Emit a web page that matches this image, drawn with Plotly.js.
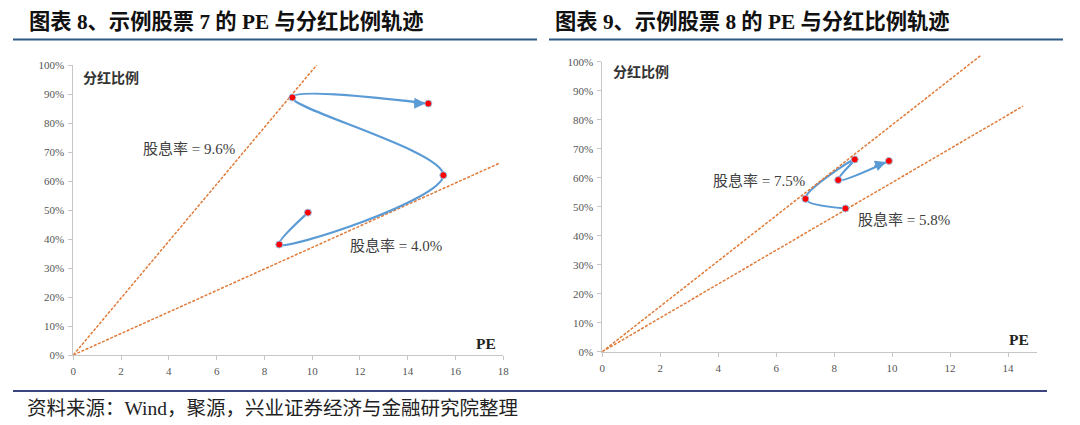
<!DOCTYPE html>
<html>
<head>
<meta charset="utf-8">
<script src="https://cdn.plot.ly/plotly-3.0.1.min.js"></script>
<style>html,body{margin:0;padding:0;background:#fff;}#chart{width:1080px;height:425px;}</style>
</head>
<body>
<div id="chart"></div>
<script>
// ---- Data ----
// Chart 8: example stock 7 trajectory (PE, payout ratio)
const stock7PE = [9.82, 8.62, 15.49, 9.17, 14.86];
const stock7Payout = [0.491, 0.381, 0.620, 0.888, 0.867];
// Dividend-yield reference lines for chart 8 (origin to drawn end)
const yield96X = [0, 10.19];
const yield96Y = [0, 1.0];
const yield40X = [0, 17.83];
const yield40Y = [0, 0.661];

// Chart 9: example stock 8 trajectory
const stock8PE = [8.39, 7.01, 8.71, 8.14, 9.89];
const stock8Payout = [0.494, 0.527, 0.663, 0.592, 0.658];
const yield75X = [0, 13.08];
const yield75Y = [0, 1.023];
const yield58X = [0, 14.52];
const yield58Y = [0, 0.847];

const yTickVals = [0, 0.1, 0.2, 0.3, 0.4, 0.5, 0.6, 0.7, 0.8, 0.9, 1.0];
const yTickText = ['0%', '10%', '20%', '30%', '40%', '50%', '60%', '70%', '80%', '90%', '100%'];
const xTicksLeft = [0, 2, 4, 6, 8, 10, 12, 14, 16, 18];
const xTicksRight = [0, 2, 4, 6, 8, 10, 12, 14];

const titleLeft = '图表 8、示例股票 7 的 PE 与分红比例轨迹';
const titleRight = '图表 9、示例股票 8 的 PE 与分红比例轨迹';
const sourceText = '资料来源：Wind，聚源，兴业证券经济与金融研究院整理';

// ---- Styles ----
const BLUE = '#5B9BD5';
const ORANGE = '#E07B39';
const RED = '#FF0000';
const SERIF = '"Liberation Serif", "Noto Sans CJK SC", serif';
const CJK = '"Liberation Serif", "Noto Sans CJK SC", sans-serif';

function dashLine(x, y, xa, ya) {
  return {x: x, y: y, xaxis: xa, yaxis: ya, mode: 'lines', type: 'scatter',
    line: {color: ORANGE, width: 1.5, dash: '3px,1.5px'}, hoverinfo: 'skip', showlegend: false};
}
function pathLine(x, y, xa, ya) {
  return {x: x, y: y, xaxis: xa, yaxis: ya, mode: 'lines', type: 'scatter',
    line: {color: BLUE, width: 2.2, shape: 'spline', smoothing: 1}, hoverinfo: 'skip', showlegend: false};
}
function dots(x, y, xa, ya) {
  return {x: x, y: y, xaxis: xa, yaxis: ya, mode: 'markers', type: 'scatter',
    marker: {color: RED, size: 7, line: {color: '#9dc3e6', width: 1}}, hoverinfo: 'skip', showlegend: false};
}

const traces = [
  dashLine(yield96X, yield96Y, 'x', 'y'),
  dashLine(yield40X, yield40Y, 'x', 'y'),
  pathLine(stock7PE, stock7Payout, 'x', 'y'),
  dots(stock7PE, stock7Payout, 'x', 'y'),
  dashLine(yield75X, yield75Y, 'x3', 'y3'),
  dashLine(yield58X, yield58Y, 'x2', 'y2'),
  pathLine(stock8PE, stock8Payout, 'x2', 'y2'),
  dots(stock8PE, stock8Payout, 'x2', 'y2')
];

const axisCommon = {
  showgrid: false, zeroline: false, showline: true, linecolor: '#c6c6c6', linewidth: 1,
  ticks: 'outside', ticklen: 4, tickcolor: '#c6c6c6', tickwidth: 1, ticklabelstandoff: 2,
  tickfont: {family: SERIF, size: 11, color: '#555'}, fixedrange: true
};

const nL = stock7PE.length - 1;
const nR = stock8PE.length - 1;

const annotations = [
  {xref: 'paper', yref: 'paper', x: 27 / 1080, y: 1 - 22 / 425, xanchor: 'left', yanchor: 'middle',
    text: '<b>' + titleLeft + '</b>', showarrow: false, font: {family: CJK, size: 21.3, color: '#111'}},
  {xref: 'paper', yref: 'paper', x: 553 / 1080, y: 1 - 22 / 425, xanchor: 'left', yanchor: 'middle',
    text: '<b>' + titleRight + '</b>', showarrow: false, font: {family: CJK, size: 21.3, color: '#111'}},
  {xref: 'paper', yref: 'paper', x: 25 / 1080, y: 1 - 408 / 425, xanchor: 'left', yanchor: 'middle',
    text: sourceText, showarrow: false, font: {family: CJK, size: 19.5, color: '#222'}},
  // axis captions
  {xref: 'paper', yref: 'paper', x: 81 / 1080, y: 1 - 78 / 425, xanchor: 'left', yanchor: 'middle',
    text: '<b>分红比例</b>', showarrow: false, font: {family: CJK, size: 14, color: '#333'}},
  {xref: 'paper', yref: 'paper', x: 498 / 1080, y: 1 - 343 / 425, xanchor: 'right', yanchor: 'middle',
    text: '<b>PE</b>', showarrow: false, font: {family: SERIF, size: 15.5, color: '#222'}},
  {xref: 'paper', yref: 'paper', x: 611 / 1080, y: 1 - 72 / 425, xanchor: 'left', yanchor: 'middle',
    text: '<b>分红比例</b>', showarrow: false, font: {family: CJK, size: 14, color: '#333'}},
  {xref: 'paper', yref: 'paper', x: 1031 / 1080, y: 1 - 339 / 425, xanchor: 'right', yanchor: 'middle',
    text: '<b>PE</b>', showarrow: false, font: {family: SERIF, size: 15.5, color: '#222'}},
  // yield labels
  {xref: 'paper', yref: 'paper', x: 141 / 1080, y: 1 - 149 / 425, xanchor: 'left', yanchor: 'middle',
    text: '股息率 = 9.6%', showarrow: false, font: {family: CJK, size: 15, color: '#404040'}},
  {xref: 'paper', yref: 'paper', x: 348 / 1080, y: 1 - 246 / 425, xanchor: 'left', yanchor: 'middle',
    text: '股息率 = 4.0%', showarrow: false, font: {family: CJK, size: 15, color: '#404040'}},
  {xref: 'paper', yref: 'paper', x: 711 / 1080, y: 1 - 181 / 425, xanchor: 'left', yanchor: 'middle',
    text: '股息率 = 7.5%', showarrow: false, font: {family: CJK, size: 15, color: '#404040'}},
  {xref: 'paper', yref: 'paper', x: 856 / 1080, y: 1 - 220 / 425, xanchor: 'left', yanchor: 'middle',
    text: '股息率 = 5.8%', showarrow: false, font: {family: CJK, size: 15, color: '#404040'}},
  // arrow heads at the end of each trajectory
  {xref: 'x', yref: 'y', x: stock7PE[nL], y: stock7Payout[nL], ax: -16, ay: -0.5, axref: 'pixel', ayref: 'pixel',
    showarrow: true, arrowhead: 2, arrowsize: 1, arrowwidth: 2.2, arrowcolor: BLUE, standoff: 3, text: ''},
  {xref: 'x2', yref: 'y2', x: stock8PE[nR], y: stock8Payout[nR], ax: -16, ay: 6, axref: 'pixel', ayref: 'pixel',
    showarrow: true, arrowhead: 2, arrowsize: 1, arrowwidth: 2.2, arrowcolor: BLUE, standoff: 3, text: ''}
];

const shapes = [
  {type: 'line', xref: 'paper', yref: 'paper', x0: 13 / 1080, x1: 537 / 1080, y0: 1 - 39.5 / 425, y1: 1 - 39.5 / 425,
    line: {color: '#2E5A88', width: 2}},
  {type: 'line', xref: 'paper', yref: 'paper', x0: 549 / 1080, x1: 1063 / 1080, y0: 1 - 39.5 / 425, y1: 1 - 39.5 / 425,
    line: {color: '#2E5A88', width: 2}},
  {type: 'line', xref: 'paper', yref: 'paper', x0: 13 / 1080, x1: 1047 / 1080, y0: 1 - 391 / 425, y1: 1 - 391 / 425,
    line: {color: '#3A447F', width: 2}}
];

// right chart geometry (pixels)
const R_X0 = 602.3, R_X1 = 1037, R_YB = 351.7, R_PX_PER_UNIT = 290;

const layout = {
  width: 1080, height: 425,
  margin: {l: 0, r: 0, t: 0, b: 0},
  paper_bgcolor: '#ffffff', plot_bgcolor: 'rgba(0,0,0,0)',
  showlegend: false,
  xaxis: Object.assign({}, axisCommon, {domain: [73.3 / 1080, 503.3 / 1080], range: [0, 18],
    tickvals: xTicksLeft, ticktext: xTicksLeft.map(String), anchor: 'y'}),
  yaxis: Object.assign({}, axisCommon, {domain: [1 - 355 / 425, 1 - 65 / 425], range: [0, 1],
    tickvals: yTickVals, ticktext: yTickText, anchor: 'x'}),
  xaxis2: Object.assign({}, axisCommon, {domain: [R_X0 / 1080, R_X1 / 1080], range: [0, 15],
    tickvals: xTicksRight, ticktext: xTicksRight.map(String), anchor: 'y2'}),
  yaxis2: Object.assign({}, axisCommon, {domain: [1 - R_YB / 425, 1 - (R_YB - R_PX_PER_UNIT) / 425], range: [0, 1],
    tickvals: yTickVals, ticktext: yTickText, anchor: 'x2'}),
  // invisible helper axes with a little headroom so the 7.5% line can run past 100%
  xaxis3: {domain: [R_X0 / 1080, R_X1 / 1080], range: [0, 15], visible: false, anchor: 'y3', fixedrange: true},
  yaxis3: {domain: [1 - R_YB / 425, 1 - (R_YB - 1.05 * R_PX_PER_UNIT) / 425], range: [0, 1.05], visible: false,
    anchor: 'x3', fixedrange: true},
  annotations: annotations,
  shapes: shapes
};

Plotly.newPlot('chart', traces, layout, {staticPlot: true, displayModeBar: false});
</script>
</body>
</html>
